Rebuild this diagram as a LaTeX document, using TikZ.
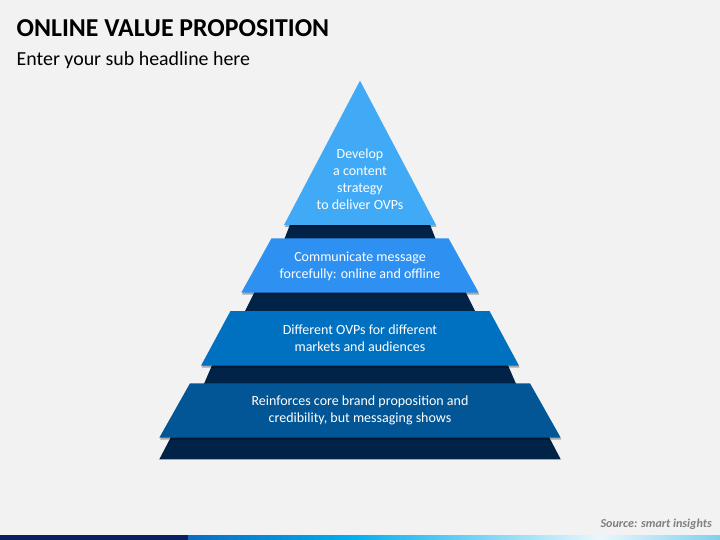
\documentclass[tikz,border=0pt]{standalone}
\usepackage{fontspec}
\setmainfont{Carlito}
\usetikzlibrary{shadows}
\definecolor{bgc}{HTML}{F2F2F2}
\definecolor{tierA}{HTML}{41AAF6}
\definecolor{tierB}{HTML}{2E90F0}
\definecolor{tierC}{HTML}{0070C0}
\definecolor{tierD}{HTML}{035696}
\definecolor{darkc}{HTML}{012347}
\definecolor{navy}{HTML}{0A2063}
\definecolor{barA}{HTML}{0A6CC2}
\definecolor{barB}{HTML}{00AEEF}
\definecolor{barC}{HTML}{EAF7FD}
\definecolor{barD}{HTML}{7FCFF0}
\definecolor{srcgray}{HTML}{7F7F7F}
\tikzset{
  tier/.style={drop shadow={shadow xshift=0.6pt,shadow yshift=-2pt,opacity=0.3,fill=black}},
  tiertext/.style={text=white,align=center,font=\fontsize{14}{17}\selectfont,inner sep=0pt},
}
\begin{document}
\begin{tikzpicture}[x=1pt,y=-1pt]
\fill[bgc] (0,0) rectangle (720,540);
\useasboundingbox (0,0) rectangle (720,540);
% title
\node[anchor=base west,inner sep=0pt,font=\fontsize{25.8}{30}\selectfont\bfseries] (title) at (16.5,36.7) {ONLINE VALUE PROPOSITION};
\node[anchor=base west,inner sep=0pt,font=\fontsize{19.9}{23}\selectfont] (sub) at (16.5,65.7) {Enter your sub headline here};
% dark pieces
\fill[darkc] (291,222) -- (429,222) -- (436,240) -- (284,240) -- cycle;
\fill[darkc] (255.5,290) -- (464.5,290) -- (475.5,312) -- (244.5,312) -- cycle;
\fill[darkc] (213,363) -- (507,363) -- (516.3,384.5) -- (203.7,384.5) -- cycle;
\fill[darkc] (172,435) -- (548,435) -- (560.7,459.3) -- (159.3,459.3) -- cycle;
% tiers
\fill[tierA,tier] (360,80.7) -- (436,225) -- (284,225) -- cycle;
\fill[tierB,tier] (271.5,238.3) -- (448.5,238.3) -- (478.7,292.7) -- (241.3,292.7) -- cycle;
\fill[tierC,tier] (230.5,311) -- (489.5,311) -- (519,365.7) -- (201,365.7) -- cycle;
\fill[tierD,tier] (190,383.3) -- (530,383.3) -- (560.7,437.7) -- (159.3,437.7) -- cycle;
% texts
\node[tiertext] (t1) at (360,178.8) {Develop\\a content\\strategy\\to deliver OVPs};
\node[tiertext] (t2) at (360,266) {Communicate message\\forcefully: online and offline};
\node[tiertext] (t3) at (360,338) {Different OVPs for different\\markets and audiences};
\node[tiertext] (t4) at (360,410.8) {Reinforces core brand proposition and\\credibility, but messaging shows};
% source
\node[anchor=base east,inner sep=0pt,text=srcgray,font=\fontsize{12.1}{14}\selectfont\bfseries\itshape] (src) at (712,527.5) {Source: smart insights};
% bottom bar
\fill[navy] (0,535) rectangle (188,540);
\shade[left color=barA,right color=barB] (188,535) rectangle (350.5,540);
\shade[left color=barB,right color=barC] (350,535) rectangle (600.5,540);
\shade[left color=barC,right color=barD] (600,535) rectangle (720,540);
\end{tikzpicture}
\end{document}
